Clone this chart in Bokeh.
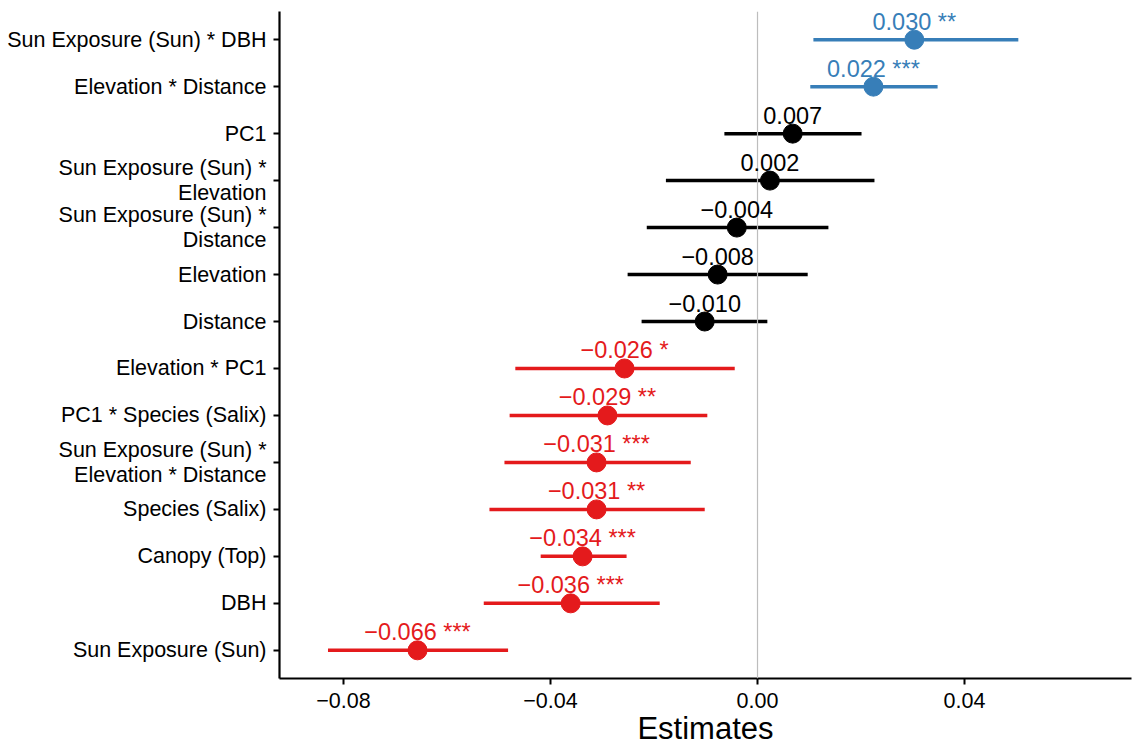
from bokeh.plotting import figure
from bokeh.models import ColumnDataSource, Range1d, FixedTicker, Span, LabelSet
from bokeh.embed import file_html
from bokeh.resources import INLINE
from bokeh.core.properties import value

# ---- data (top to bottom as in the chart) ----
terms = [
    "Sun Exposure (Sun) * DBH",
    "Elevation * Distance",
    "PC1",
    "Sun Exposure (Sun) *\nElevation",
    "Sun Exposure (Sun) *\nDistance",
    "Elevation",
    "Distance",
    "Elevation * PC1",
    "PC1 * Species (Salix)",
    "Sun Exposure (Sun) *\nElevation * Distance",
    "Species (Salix)",
    "Canopy (Top)",
    "DBH",
    "Sun Exposure (Sun)",
]
estimates = [0.0303, 0.0224, 0.0068, 0.0024, -0.0040, -0.0077, -0.0102, -0.0257,
             -0.0290, -0.0311, -0.0311, -0.0338, -0.0361, -0.0657]
ci_low = [0.0108, 0.0102, -0.0064, -0.0177, -0.0214, -0.0251, -0.0224, -0.0468,
          -0.0479, -0.0489, -0.0518, -0.0419, -0.0529, -0.0830]
ci_high = [0.0504, 0.0348, 0.0201, 0.0226, 0.0137, 0.0097, 0.0019, -0.0044,
           -0.0097, -0.0129, -0.0102, -0.0253, -0.0189, -0.0482]
stars = ["**", "***", "", "", "", "", "", "*", "**", "***", "**", "***", "***", "***"]
groups = ["pos", "pos", "ns", "ns", "ns", "ns", "ns", "neg", "neg", "neg", "neg", "neg", "neg", "neg"]
x_ticks = [-0.08, -0.04, 0.0, 0.04]
x_tick_labels = ["\u22120.08", "\u22120.04", "0.00", "0.04"]

palette = {"pos": "#377EB8", "ns": "#000000", "neg": "#E41A1C"}

n = len(terms)
ypos = [n - i for i in range(n)]
colors = [palette[g] for g in groups]


def fmt(v, s):
    t = f"{abs(v):.3f}"
    if v < 0:
        t = "\u2212" + t
    return (t + " " + s) if s else t


labels = [fmt(v, s) for v, s in zip(estimates, stars)]

src = ColumnDataSource(dict(y=ypos, est=estimates, lo=ci_low, hi=ci_high,
                            color=colors, label=labels))

p = figure(output_backend="svg", toolbar_location=None,
           frame_width=852, frame_height=667,
           min_border_left=279, min_border_top=11, min_border_right=2, min_border_bottom=0,
           x_range=Range1d(-0.09237, 0.07227), y_range=Range1d(0.4, n + 0.6))

p.add_layout(Span(location=0, dimension="height", line_color="#bdbdbd", line_width=1.2))

p.segment(x0="lo", x1="hi", y0="y", y1="y", source=src, line_color="color", line_width=3.5)
p.scatter(x="est", y="y", source=src, size=19, fill_color="color", line_color="color")
p.add_layout(LabelSet(x="est", y="y", text="label", source=src, text_color="color",
                      text_align="center", text_baseline="alphabetic", y_offset=10,
                      text_font=value("Liberation Sans"), text_font_size=value("23.5px")))

p.xgrid.visible = False
p.ygrid.visible = False
p.outline_line_color = None
p.background_fill_color = "white"
p.border_fill_color = "white"

xa = p.xaxis[0]
xa.ticker = FixedTicker(ticks=x_ticks)
xa.major_label_overrides = {t: l for t, l in zip(x_ticks, x_tick_labels)}
xa.axis_label = "Estimates"
xa.axis_label_text_font = "Liberation Sans"
xa.axis_label_text_font_style = "normal"
xa.axis_label_text_font_size = "31px"
xa.axis_label_text_color = "black"
xa.axis_label_text_line_height = 1.0
xa.axis_label_standoff = 0
xa.major_label_standoff = 8

ya = p.yaxis[0]
ya.ticker = FixedTicker(ticks=ypos)
ya.major_label_overrides = {y: t for y, t in zip(ypos, terms)}
ya.major_label_standoff = 7
ya.major_label_text_line_height = 1.05

for ax in (xa, ya):
    ax.axis_line_color = "black"
    ax.axis_line_width = 2.2
    ax.major_tick_line_color = "black"
    ax.major_tick_line_width = 2
    ax.major_tick_out = 6
    ax.major_tick_in = 0
    ax.minor_tick_line_color = None
    ax.major_label_text_font = "Liberation Sans"
    ax.major_label_text_font_size = "21.5px"
    ax.major_label_text_color = "black"

open("out.html", "w").write(file_html(p, INLINE))
